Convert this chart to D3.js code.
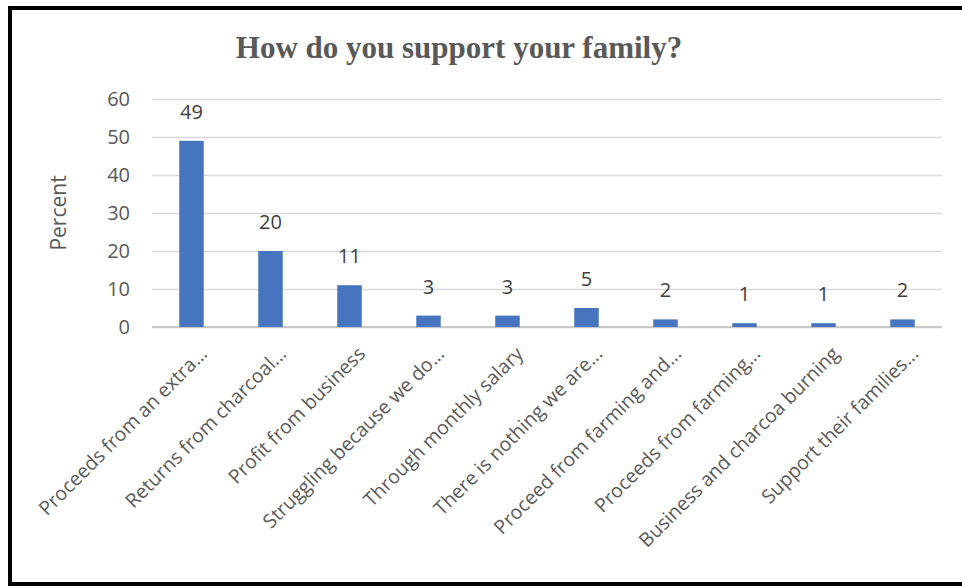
<!DOCTYPE html>
<html>
<head>
<meta charset="utf-8">
<script src="https://cdn.jsdelivr.net/npm/d3@7"></script>
<style>
  html, body { margin: 0; padding: 0; background: #fff; overflow: hidden; }
  svg { display: block; }
</style>
</head>
<body>
<svg id="chart" width="962" height="586"></svg>
<script>
// Survey responses: how respondents support their family (percent)
const categories = [
  "Proceeds from an extra...",
  "Returns from charcoal...",
  "Profit from business",
  "Struggling because we do...",
  "Through monthly salary",
  "There is nothing we are...",
  "Proceed from farming and...",
  "Proceeds from farming...",
  "Business and charcoa burning",
  "Support their families..."
];
const percents = [49, 20, 11, 3, 3, 5, 2, 1, 1, 2];
const yTicks = [0, 10, 20, 30, 40, 50, 60];
const chartTitle = "How do you support your family?";
const yLabel = "Percent";

const svg = d3.select("#chart");
const textColor = "#595959";
const sansFont = "'Open Sans', 'Noto Sans', sans-serif";

// Frame around the chart (right edge runs past the page)
svg.append("rect")
  .attr("x", 10).attr("y", 8)
  .attr("width", 1000).attr("height", 576)
  .attr("fill", "none")
  .attr("stroke", "#000")
  .attr("stroke-width", 4);

const plot = { left: 152, right: 942, top: 99, bottom: 327 };

const x = d3.scaleBand()
  .domain(categories)
  .range([plot.left, plot.right])
  .paddingInner(0.69)
  .paddingOuter(0.345);

const y = d3.scaleLinear()
  .domain([0, 60])
  .range([plot.bottom, plot.top]);

// Gridlines
svg.append("g")
  .attr("transform", `translate(${plot.left},0)`)
  .call(d3.axisLeft(y).tickValues(yTicks).tickSize(-(plot.right - plot.left)).tickFormat(""))
  .call(g => g.select(".domain").remove())
  .call(g => g.selectAll(".tick line").attr("stroke", "#d9d9d9").attr("stroke-width", 1.5));

// Y tick labels
svg.append("g")
  .attr("transform", `translate(${plot.left - 22},0)`)
  .call(d3.axisLeft(y).tickValues(yTicks).tickSize(0).tickPadding(0))
  .call(g => g.select(".domain").remove())
  .call(g => g.selectAll("text")
    .attr("fill", textColor)
    .attr("font-family", sansFont)
    .attr("font-size", 20));

// Baseline axis
svg.append("line")
  .attr("x1", plot.left).attr("x2", plot.right)
  .attr("y1", y(0)).attr("y2", y(0))
  .attr("stroke", "#bfbfbf").attr("stroke-width", 1.5);

// Bars
svg.append("g").selectAll("rect")
  .data(categories)
  .join("rect")
  .attr("x", d => x(d))
  .attr("width", x.bandwidth())
  .attr("y", (d, i) => y(percents[i]))
  .attr("height", (d, i) => y(0) - y(percents[i]))
  .attr("fill", "#4674be");

// Value labels
svg.append("g").selectAll("text")
  .data(categories)
  .join("text")
  .attr("x", d => x(d) + x.bandwidth() / 2)
  .attr("y", (d, i) => y(percents[i]) - 22)
  .attr("text-anchor", "middle")
  .attr("fill", "#404040")
  .attr("font-family", sansFont)
  .attr("font-size", 20)
  .text((d, i) => percents[i]);

// Category labels, rotated
svg.append("g")
  .attr("transform", `translate(0,${y(0)})`)
  .call(d3.axisBottom(x).tickSize(0).tickPadding(0))
  .call(g => g.select(".domain").remove())
  .call(g => g.selectAll("text")
    .attr("fill", textColor)
    .attr("font-family", sansFont)
    .attr("font-size", 19.5)
    .attr("text-anchor", "end")
    .attr("dy", "0")
    .attr("transform", "translate(17,28) rotate(-45)"));

// Y axis title
svg.append("text")
  .attr("transform", `translate(66,213) rotate(-90)`)
  .attr("text-anchor", "middle")
  .attr("fill", textColor)
  .attr("font-family", sansFont)
  .attr("font-size", 21)
  .text(yLabel);

// Chart title
svg.append("text")
  .attr("x", 459).attr("y", 58)
  .attr("text-anchor", "middle")
  .attr("fill", textColor)
  .attr("font-family", "'Liberation Serif', 'Times New Roman', serif")
  .attr("font-weight", "bold")
  .attr("font-size", 31)
  .text(chartTitle);
</script>
</body>
</html>
